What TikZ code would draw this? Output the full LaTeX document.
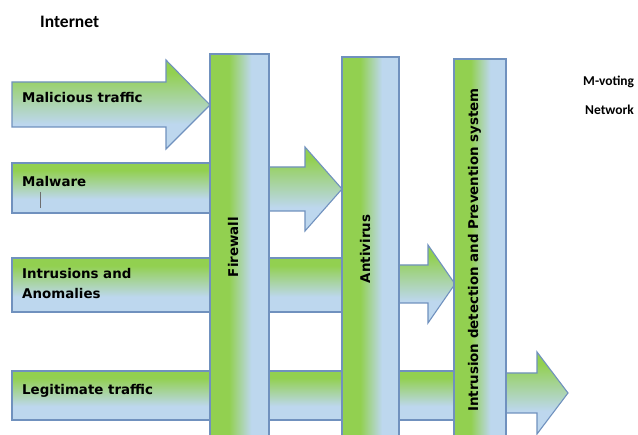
\documentclass[tikz,border=0pt]{standalone}
\usepackage{fontspec}
\setmainfont{DejaVu Sans}
\newfontfamily\calfont{Carlito}
\definecolor{grn}{RGB}{146,208,80}
\definecolor{blu}{RGB}{189,215,238}
\definecolor{edgec}{RGB}{112,145,190}
\definecolor{cursorc}{RGB}{110,110,110}
\pgfdeclarehorizontalshading{pillarsh}{100bp}{color(0bp)=(grn); color(41bp)=(grn); color(60bp)=(blu); color(100bp)=(blu)}
\pgfdeclareverticalshading{arrowsh}{100bp}{color(0bp)=(blu); color(39bp)=(blu); color(68bp)=(grn); color(100bp)=(grn)}
\tikzset{
  flow/.style={draw=edgec, line width=1.1pt, line join=miter, shading=arrowsh},
  pillar/.style={draw=edgec, line width=1.1pt, shading=pillarsh},
  lbl/.style={font=\bfseries\fontsize{13.4}{16}\selectfont, inner sep=0pt, text=black},
  plbl/.style={lbl, rotate=90, anchor=base},
  side/.style={font=\calfont\bfseries\fontsize{13.5}{16}\selectfont, inner sep=0pt, anchor=base west}
}
\begin{document}
\begin{tikzpicture}[x=1pt,y=-1pt]
\useasboundingbox (0,0) rectangle (638,435);
\clip (0,0) rectangle (638,435);
\fill[white] (0,0) rectangle (638,435);
% row 1: malicious traffic
\path[flow] (12,82) -- (166,82) -- (166,60) -- (210,105) -- (166,149) -- (166,127) -- (12,127) -- cycle;
% row 2: malware
\path[flow] (12,163) rectangle (250,213);
\path[flow] (250,167) -- (305,167) -- (305,147) -- (342,189) -- (305,231) -- (305,211) -- (250,211) -- cycle;
% row 3: intrusions
\path[flow] (12,258) rectangle (370,312);
\path[flow] (370,265) -- (428,265) -- (428,245) -- (455,284) -- (428,323) -- (428,303) -- (370,303) -- cycle;
% row 4: legitimate
\path[flow] (12,371) rectangle (480,420);
\path[flow] (480,373) -- (537,373) -- (537,352) -- (568,393) -- (537,434) -- (537,413) -- (480,413) -- cycle;
% pillars
\path[pillar] (210,54) rectangle (269,445);
\path[pillar] (342,57) rectangle (399,445);
\path[pillar] (454,59) rectangle (506,445);
% pillar labels
\node[plbl] (fw) at (238,247) {Firewall};
\node[plbl] (av) at (370,249) {Antivirus};
\node[plbl] (ids) at (478,250) {Intrusion detection and Prevention system};
% row labels
\node[lbl, anchor=base west] (mal) at (22,103) {Malicious traffic};
\node[lbl, anchor=base west] (mw) at (22,187) {Malware};
\node[lbl, anchor=base west] (in1) at (22,279) {Intrusions and};
\node[lbl, anchor=base west] (in2) at (22,299) {Anomalies};
\node[lbl, anchor=base west] (leg) at (22,395) {Legitimate traffic};
\draw[cursorc, line width=1pt] (40.5,192) -- (40.5,208);
% side labels
\node[side, font=\calfont\bfseries\fontsize{17.5}{20}\selectfont] (inet) at (40,28) {Internet};
\node[side] (mv) at (583,86) {M-voting};
\node[side] (net) at (585,115) {Network};
\end{tikzpicture}
\end{document}
